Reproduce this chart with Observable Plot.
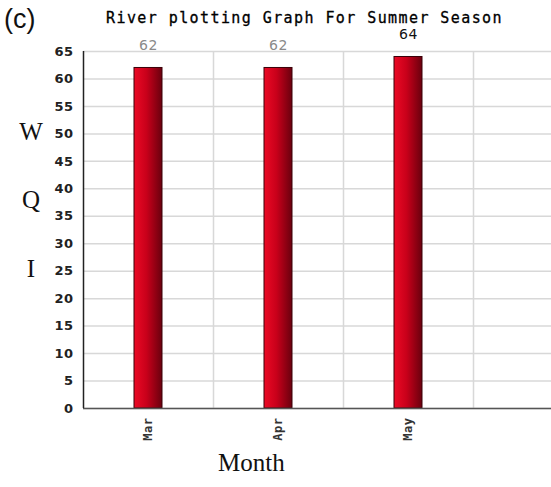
<!DOCTYPE html>
<html>
<head>
<meta charset="utf-8">
<script src="https://cdn.jsdelivr.net/npm/d3@7"></script>
<script src="https://cdn.jsdelivr.net/npm/@observablehq/plot@0.6"></script>
<style>
  html, body { margin: 0; padding: 0; background: #fff; }
  #wrap { position: relative; width: 551px; height: 487px; overflow: hidden; }
  .ov { position: absolute; white-space: nowrap; }
  #panel { left: 4px; top: 4px; font: 27px "Liberation Sans", Arial, sans-serif; color: #111; }
  #title { left: 106px; top: 9px;
           font: 15px "DejaVu Sans Mono", monospace; color: #000; -webkit-text-stroke: 0.3px #000; }
  .ylab { left: 18px; width: 26px; text-align: center; font: 25px "Liberation Serif", "Times New Roman", serif; color: #111; }
  #xlab { left: 218px; top: 449px; font: 25px "Liberation Serif", "Times New Roman", serif; color: #111; }
</style>
</head>
<body>
<div id="wrap">
  <div id="chart"></div>
  <div id="panel" class="ov">(c)</div>
  <div id="title" class="ov">River plotting Graph For Summer Season</div>
  <div class="ov ylab" style="top:118px">W</div>
  <div class="ov ylab" style="top:186px">Q</div>
  <div class="ov ylab" style="top:255px">I</div>
  <div id="xlab" class="ov">Month</div>
</div>
<script>
const months = ["Mar", "Apr", "May"];
const wqi = [62, 62, 64];
const yTicks = [0, 5, 10, 15, 20, 25, 30, 35, 40, 45, 50, 55, 60, 65];

const data = months.map((m, i) => ({month: m, value: wqi[i]}));
const maxVal = d3.max(wqi);
const xDomain = [...months, " "];

const chart = Plot.plot({
  width: 551,
  height: 487,
  marginTop: 51,
  marginBottom: 79,
  marginLeft: 83,
  marginRight: 0,
  style: {background: "transparent", overflow: "hidden"},
  x: {domain: xDomain, range: [83, 603], padding: 0, axis: null},
  y: {domain: [0, 65], ticks: yTicks, axis: null},
  marks: [
    Plot.gridY(yTicks, {stroke: "#d8d8d8", strokeOpacity: 1, strokeWidth: 1.5}),
    Plot.ruleX(xDomain, {x: d => d, dx: 65, stroke: "#d8d8d8", strokeWidth: 1.5}),
    Plot.barY(data, {x: "month", y: "value", insetLeft: 51, insetRight: 51,
      fill: "url(#barGrad)", stroke: "#3a0008", strokeWidth: 1}),
    Plot.text(data, {x: "month", y: "value", text: d => String(d.value), dy: -22,
      fill: d => d.value === maxVal ? "#111" : "#8a8a8a",
      fontSize: 14, fontFamily: "DejaVu Sans", fontWeight: d => d.value === maxVal ? "bold" : "normal"}),
    Plot.axisY({ticks: yTicks, tickSize: 0, tickPadding: 10, anchor: "left", label: null,
      fontSize: 13, fontWeight: "bold", fontFamily: "DejaVu Sans", fill: "#222"}),
    Plot.axisX(months, {anchor: "bottom", tickSize: 0, tickPadding: 9, tickRotate: -90, label: null,
      fontSize: 12, fontWeight: "bold", fontFamily: "DejaVu Sans Mono", fill: "#333"}),
    Plot.ruleY([0], {stroke: "#555", strokeWidth: 1.5}),
    Plot.ruleX([months[0]], {x: d => d, dx: -65, y1: 0, y2: 65, stroke: "#222", strokeWidth: 1.5})
  ]
});

const ns = "http://www.w3.org/2000/svg";
const defs = document.createElementNS(ns, "defs");
const grad = document.createElementNS(ns, "linearGradient");
grad.setAttribute("id", "barGrad");
grad.setAttribute("x1", "0"); grad.setAttribute("x2", "1");
grad.setAttribute("y1", "0"); grad.setAttribute("y2", "0");
[["0%", "#ec0a25"], ["45%", "#c8001a"], ["100%", "#6a000e"]].forEach(([o, c]) => {
  const s = document.createElementNS(ns, "stop");
  s.setAttribute("offset", o); s.setAttribute("stop-color", c);
  grad.appendChild(s);
});
defs.appendChild(grad);
chart.insertBefore(defs, chart.firstChild);
chart.querySelectorAll("text").forEach(t => { t.style.letterSpacing = "0.5px"; });
document.getElementById("chart").appendChild(chart);

// fit title to reference span width
const title = document.getElementById("title");
const targetW = 397;
const txt = title.textContent;
title.style.letterSpacing = "0px";
const baseW = title.getBoundingClientRect().width;
title.style.letterSpacing = ((targetW - baseW) / txt.length) + "px";
</script>
</body>
</html>
